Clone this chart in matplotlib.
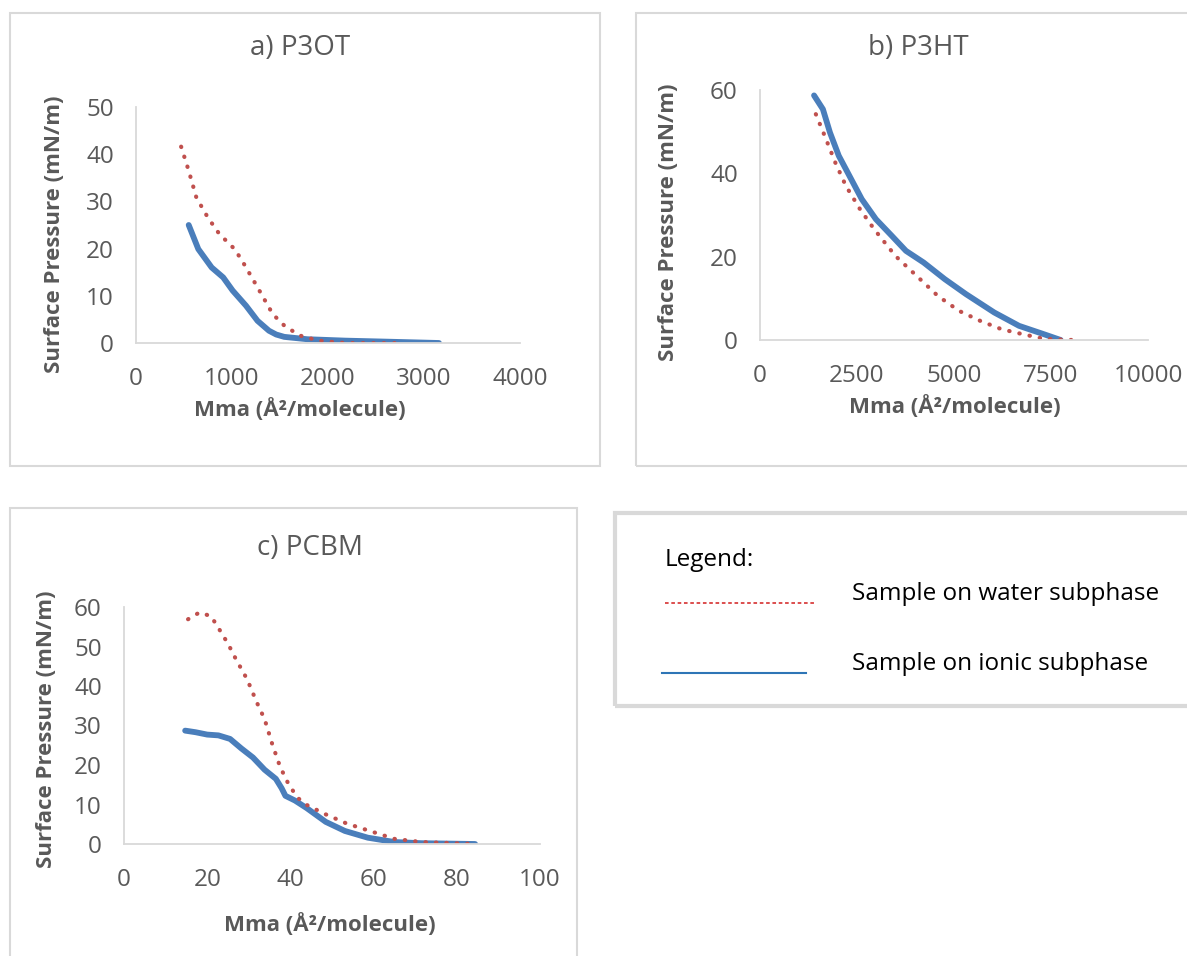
import matplotlib.pyplot as plt
import numpy as np
from matplotlib.patches import Rectangle
from matplotlib.lines import Line2D

plt.rcParams['font.family'] = ['Open Sans', 'DejaVu Sans']

# a) P3OT
a_water_x = [470, 549, 629, 748, 868, 1027, 1106, 1206, 1305, 1425, 1544, 1703, 1902, 2181, 2758]
a_water_y = [41.6, 36.5, 30.8, 26.6, 23.1, 19.9, 17.4, 13.9, 10.4, 6.1, 3.7, 1.6, 0.5, 0.0, 0.0]
a_ionic_x = [549, 649, 788, 908, 1007, 1146, 1266, 1385, 1460, 1544, 1783, 2181, 2579, 3156]
a_ionic_y = [25.0, 19.9, 16.0, 13.9, 11.1, 7.9, 4.7, 2.6, 1.8, 1.3, 0.8, 0.5, 0.3, 0.0]

# b) P3HT
b_water_x = [1439, 1667, 1940, 2213, 2577, 2942, 3488, 4035, 4581, 5128, 5674, 6221, 6767, 7313, 8060]
b_water_y = [54.2, 49.0, 42.6, 37.0, 31.4, 26.6, 20.2, 15.4, 10.6, 7.0, 4.6, 2.6, 1.4, 0.3, 0.0]
b_ionic_x = [1393, 1621, 1803, 2031, 2259, 2623, 2987, 3397, 3761, 4217, 4763, 5310, 6038, 6676, 7313, 7750]
b_ionic_y = [58.7, 55.4, 49.8, 44.2, 40.2, 33.8, 29.0, 25.0, 21.4, 18.6, 14.6, 11.0, 6.6, 3.4, 1.4, 0.0]

# c) PCBM
c_water_x = [15.4, 18.1, 20.9, 22.7, 25.0, 26.9, 29.6, 31.9, 33.8, 35.6, 37.5, 39.3, 41.6, 43.9,
             48.5, 53.5, 59.1, 65.0, 71.5, 84.4]
c_water_y = [56.9, 58.6, 57.7, 54.7, 50.7, 46.8, 41.7, 35.9, 31.6, 25.4, 19.6, 15.7, 11.8, 9.9,
             7.5, 5.2, 3.3, 1.3, 0.5, 0.0]
c_ionic_x = [14.7, 17.2, 20.0, 22.7, 25.5, 28.2, 31.0, 33.8, 36.5, 37.9, 38.8, 41.1, 43.9, 48.5,
             53.1, 58.6, 65.0, 71.5, 84.4]
c_ionic_y = [28.7, 28.3, 27.7, 27.5, 26.6, 24.2, 21.9, 18.8, 16.5, 14.1, 12.2, 11.0, 9.1, 5.6,
             3.3, 1.6, 0.5, 0.2, 0.0]

titles = ['a) P3OT', 'b) P3HT', 'c) PCBM']
xlabel = 'Mma (Å²/molecule)'
ylabel = 'Surface Pressure (mN/m)'
legend_labels = ['Sample on water subphase', 'Sample on ionic subphase']

W, H = 1187, 956
red = '#C0504D'
blue = '#4A7EBB'
grey = '#595959'
border = '#D9D9D9'

fig = plt.figure(figsize=(W / 100, H / 100), dpi=100)


def px_rect(x0, y0, x1, y1):
    return [x0 / W, 1 - y1 / H, (x1 - x0) / W, (y1 - y0) / H]


def box(x0, y0, x1, y1, lw=1.5):
    r = Rectangle((x0 / W, 1 - y1 / H), (x1 - x0) / W, (y1 - y0) / H,
                  transform=fig.transFigure, fill=False, ec=border, lw=lw)
    fig.add_artist(r)


def panel(rect, wx, wy, ix, iy, xlim, xticks, ylim, yticks, title, tpos, xlpos, ylpos):
    ax = fig.add_axes(px_rect(*rect))
    ax.plot(ix, iy, color=blue, lw=4.2, solid_capstyle='round', solid_joinstyle='round')
    ax.plot(wx, wy, color=red, lw=3, linestyle=(0, (0.1, 2.4)), dash_capstyle='round')
    ax.set_xlim(xlim)
    ax.set_ylim(ylim)
    ax.set_xticks(xticks)
    ax.set_yticks(yticks)
    for s in ['top', 'right']:
        ax.spines[s].set_visible(False)
    for s in ['left', 'bottom']:
        ax.spines[s].set_color(border)
        ax.spines[s].set_linewidth(1.3)
    ax.tick_params(length=0, labelsize=17.5, labelcolor=grey)
    ax.tick_params(axis='x', pad=17)
    ax.tick_params(axis='y', pad=16)
    ax.set_facecolor('none')
    fig.text(tpos[0] / W, 1 - tpos[1] / H, title, ha='center', va='center', fontsize=20, color=grey)
    fig.text(xlpos[0] / W, 1 - xlpos[1] / H, xlabel, ha='center', va='center', fontsize=16,
             fontweight='bold', color=grey)
    fig.text(ylpos[0] / W, 1 - ylpos[1] / H, ylabel, ha='center', va='center', fontsize=16,
             fontweight='bold', color=grey, rotation=90)
    return ax


box(10, 13, 600, 466)
box(636, 13, 1200, 466)
box(10, 508, 577, 970)
box(615, 513, 1200, 706, lw=3)

panel((136, 107, 520, 343), a_water_x, a_water_y, a_ionic_x, a_ionic_y,
      (0, 4000), [0, 1000, 2000, 3000, 4000], (0, 50), [0, 10, 20, 30, 40, 50],
      titles[0], (300, 48), (300, 410), (55, 234))

panel((760, 90, 1148, 340), b_water_x, b_water_y, b_ionic_x, b_ionic_y,
      (0, 10000), [0, 2500, 5000, 7500, 10000], (0, 60), [0, 20, 40, 60],
      titles[1], (918, 48), (955, 407), (668, 222))

panel((124, 607, 540, 844), c_water_x, c_water_y, c_ionic_x, c_ionic_y,
      (0, 100), [0, 20, 40, 60, 80, 100], (0, 60), [0, 10, 20, 30, 40, 50, 60],
      titles[2], (310, 548), (330, 925), (47, 729))

# legend panel
fig.text(665 / W, 1 - 560 / H, 'Legend:', ha='left', va='center', fontsize=17.5, color='black')
fig.add_artist(Line2D([665 / W, 815 / W], [1 - 603 / H, 1 - 603 / H], transform=fig.transFigure,
                      color='#D94040', lw=1.3, linestyle=(0, (2, 1.5))))
fig.add_artist(Line2D([662 / W, 806 / W], [1 - 673 / H, 1 - 673 / H], transform=fig.transFigure,
                      color='#2E75B6', lw=1.5))
fig.text(852 / W, 1 - 594 / H, legend_labels[0], ha='left', va='center', fontsize=17.5,
         color='black')
fig.text(852 / W, 1 - 664 / H, legend_labels[1], ha='left', va='center', fontsize=17.5,
         color='black')

fig.savefig('out.png', dpi=100)
